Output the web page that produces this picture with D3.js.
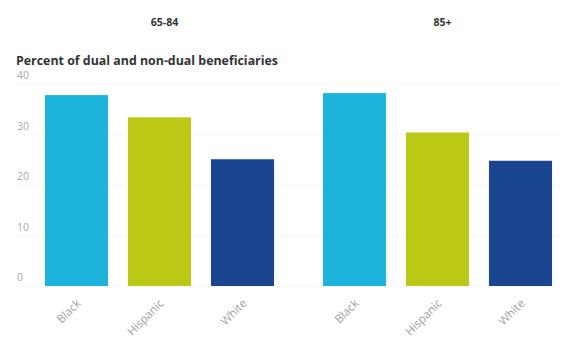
<!DOCTYPE html>
<html>
<head>
<meta charset="utf-8">
<script src="https://cdn.jsdelivr.net/npm/d3@7"></script>
<style>
  html, body { margin: 0; padding: 0; background: #fff; }
  svg { display: block; }
</style>
</head>
<body>
<svg id="chart" width="572" height="337"></svg>
<script>
const panels = ["65-84", "85+"];
const categories = ["Black", "Hispanic", "White"];
const values6584 = [37.8, 33.4, 25.1];
const values85 = [38.2, 30.4, 24.8];
const yTicks = [0, 10, 20, 30, 40];
const subtitle = "Percent of dual and non-dual beneficiaries";
const colors = ["#1cb4dc", "#bcc816", "#1a4590"];

const seriesByPanel = [values6584, values85];

const svg = d3.select("#chart");
const font = "'Open Sans', Lato, sans-serif";

const y = d3.scaleLinear().domain([0, 40]).range([286, 84]);
const color = d3.scaleOrdinal().domain(categories).range(colors);

// subtitle
svg.append("text")
  .attr("x", 16).attr("y", 65)
  .attr("font-family", font).attr("font-weight", 700)
  .attr("font-size", 11.8).attr("fill", "#333")
  .attr("textLength", 262).attr("lengthAdjust", "spacingAndGlyphs")
  .text(subtitle);

// faint gridlines
svg.append("g").selectAll("line").data(yTicks).join("line")
  .attr("x1", 16).attr("x2", 562)
  .attr("y1", d => y(d)).attr("y2", d => y(d))
  .attr("stroke", "#f6f6f6").attr("stroke-width", 1);

// y tick labels (sit above gridlines)
svg.append("g").selectAll("text").data(yTicks).join("text")
  .attr("x", 17)
  .attr("y", d => y(d) - 5)
  .attr("font-family", font).attr("font-size", 10.5)
  .attr("fill", "#aaa")
  .text(d => d);

const panelRanges = [[35, 284], [313, 562]];

panels.forEach((p, i) => {
  const x = d3.scaleBand().domain(categories).range(panelRanges[i])
    .paddingInner(0.24).paddingOuter(0.12);
  const g = svg.append("g");
  const data = categories.map((c, j) => ({ c, v: seriesByPanel[i][j] }));

  g.append("text")
    .attr("x", (panelRanges[i][0] + panelRanges[i][1]) / 2 + 5)
    .attr("y", 26)
    .attr("text-anchor", "middle")
    .attr("font-family", font).attr("font-weight", 700)
    .attr("font-size", 10.5).attr("fill", "#333")
    .text(p);

  g.selectAll("rect").data(data).join("rect")
    .attr("x", d => x(d.c))
    .attr("width", x.bandwidth())
    .attr("y", d => y(d.v))
    .attr("height", d => y(0) - y(d.v))
    .attr("fill", d => color(d.c));

  const xAxis = d3.axisBottom(x).tickSize(0).tickPadding(0);
  const ax = g.append("g").attr("transform", `translate(0,${y(0)})`).call(xAxis);
  ax.select(".domain").remove();
  ax.selectAll("text")
    .attr("font-family", font).attr("font-size", 11.5)
    .attr("fill", "#a0a0a0")
    .attr("text-anchor", "end")
    .attr("dy", null).attr("y", 0)
    .attr("transform", "translate(5,18) rotate(-45)");
});
</script>
</body>
</html>
